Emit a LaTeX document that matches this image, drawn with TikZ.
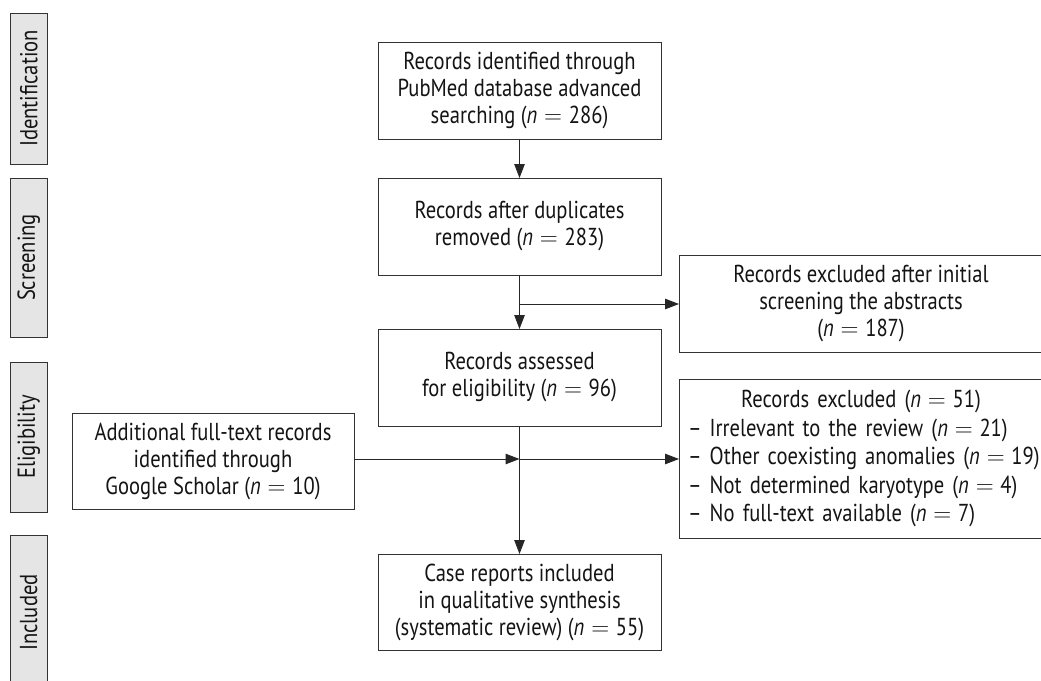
\documentclass[tikz,border=0pt]{standalone}
\usepackage{fontspec}
\setmainfont{PT Sans}[FakeStretch=0.84]
\usetikzlibrary{arrows.meta}
\newcommand\nval[1]{(\textit{n}\;$=$\;#1)}
\begin{document}
\begin{tikzpicture}[x=1pt,y=-1pt,
  every node/.style={inner sep=0pt,outer sep=0pt,text=black!92},
  flowbox/.style={draw=black!80,line width=1pt,fill=white,align=center,
    font=\fontsize{24.5}{27}\selectfont},
  sidebox/.style={draw=black!80,line width=1pt,fill=black!10,
    minimum width=36.5pt,font=\fontsize{24.5}{26}\selectfont},
  conn/.style={draw=black!85,line width=1pt},
  arr/.style={conn,-{Triangle[length=14pt,width=10.5pt]}}]
\useasboundingbox (0,0) rectangle (1041,680);
% side labels
\node[sidebox,minimum height=151pt] (sid) at (28.75,88.5) {\rotatebox{90}{Identification}};
\node[sidebox,minimum height=159pt] (sscr) at (28.75,257.5) {\rotatebox{90}{Screening}};
\node[sidebox,minimum height=150pt] (seli) at (28.75,437) {\rotatebox{90}{Eligibility}};
\node[sidebox,minimum height=155pt] (sinc) at (28.75,612.5) {\rotatebox{90}{Included}};
% main boxes
\node[flowbox,minimum width=283pt,minimum height=97pt] (b1) at (519.5,90.5)
  {Records identified through\\PubMed database advanced\\searching \nval{286}};
\node[flowbox,minimum width=283pt,minimum height=97pt] (b2) at (519.5,226.5)
  {Records after duplicates\\removed \nval{283}};
\node[flowbox,minimum width=283pt,minimum height=97pt] (b3) at (519.5,377.5)
  {Records assessed\\for eligibility \nval{96}};
\node[flowbox,minimum width=283pt,minimum height=96pt] (b4) at (519.5,602)
  {Case reports included\\in qualitative synthesis\\(systematic review) \nval{55}};
\node[flowbox,minimum width=282pt,minimum height=96pt] (a) at (213,461)
  {Additional full-text records\\identified through\\Google Scholar \nval{10}};
\node[flowbox,minimum width=364pt,minimum height=97pt] (e1) at (861,303.5)
  {Records excluded after initial\\screening the abstracts\\\nval{187}};
\node[flowbox,minimum width=364pt,minimum height=159pt,text width=346pt,align=left,
  font=\fontsize{24.5}{28.5}\selectfont] (e2) at (861,458.5)
  {\makebox[\linewidth][c]{Records excluded \nval{51}}\\
   \mbox{-- Irrelevant to the review \nval{21}}\\
   \mbox{-- Other coexisting anomalies \nval{19}}\\
   \mbox{-- Not determined karyotype \nval{4}}\\
   \mbox{-- No full-text available \nval{7}}};
% connectors
\coordinate (j1) at (519.5,304);
\coordinate (j2) at (519.5,459);
\draw[arr] (b1) -- (b2);
\draw[arr] (b2) -- (b3);
\draw[arr] (j1) -- (j1 -| e1.west);
\draw[arr] (b3) -- (b4);
\draw[arr] (a.east |- j2) -- (j2);
\draw[arr] (j2) -- (j2 -| e2.west);
\end{tikzpicture}
\end{document}
